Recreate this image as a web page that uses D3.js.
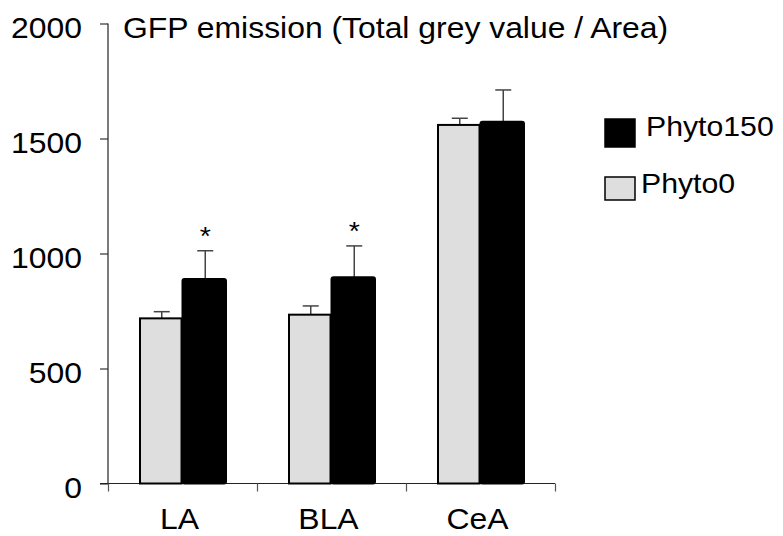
<!DOCTYPE html>
<html>
<head>
<meta charset="utf-8">
<script src="https://cdn.jsdelivr.net/npm/d3@7"></script>
<style>
  html, body { margin: 0; padding: 0; background: #fff; }
  svg { display: block; }
  text { font-family: "Liberation Sans", Arial, Helvetica, sans-serif; fill: #000; }
</style>
</head>
<body>
<svg id="chart" width="783" height="536"></svg>
<script>
const categories = ["LA", "BLA", "CeA"];
const seriesNames = ["Phyto0", "Phyto150"];
const phyto0 = [718, 734, 1559];
const phyto0Err = [747, 772, 1588];
const phyto150 = [889, 897, 1573];
const phyto150Err = [1012, 1033, 1711];
const significant = [true, true, false];
const yTicks = [0, 500, 1000, 1500, 2000];
const title = "GFP emission (Total grey value / Area)";
const legendOrder = ["Phyto150", "Phyto0"];

const svg = d3.select("#chart");
const plotLeft = 108, plotRight = 555, plotTop = 23.5, plotBottom = 483.5;
const SX = 1.1; // horizontal stretch of the reference lettering

function stretch(sel) {
  sel.each(function () {
    const t = d3.select(this);
    const x = +t.attr("x") || 0, yy = +t.attr("y") || 0;
    t.attr("x", 0).attr("y", 0).attr("transform", `translate(${x},${yy}) scale(${SX},1)`);
  });
}

const y = d3.scaleLinear().domain([0, 2000]).range([plotBottom, plotTop]);
const x0 = d3.scaleBand().domain(categories).range([plotLeft, plotRight]).paddingInner(0).paddingOuter(0);
const x1 = d3.scaleBand().domain(seriesNames).range([32, 119]).padding(0);
const xEdges = d3.scaleLinear().domain([0, categories.length]).range([plotLeft, plotRight]);

const fills = { Phyto0: "#dedede", Phyto150: "#000" };
const values = { Phyto0: phyto0, Phyto150: phyto150 };
const errs = { Phyto0: phyto0Err, Phyto150: phyto150Err };

// Y axis
const yAxis = svg.append("g").attr("transform", `translate(${plotLeft},0)`)
  .call(d3.axisLeft(y).tickValues(yTicks).tickSize(8).tickPadding(18).tickFormat(d3.format("d")));
yAxis.select(".domain").attr("stroke", "#222").attr("stroke-width", 1.2).attr("d", `M0,${plotTop}V${plotBottom}`);
yAxis.selectAll(".tick line").attr("stroke", "#333").attr("stroke-width", 1.2);
yAxis.selectAll(".tick text").attr("font-size", 29).attr("dy", "0.48em")
  .style("font-family", "'Liberation Sans', Arial, sans-serif")
  .call(stretch);

// X axis (boundaries)
const xAxis = svg.append("g").attr("transform", `translate(0,${plotBottom})`)
  .call(d3.axisBottom(xEdges).tickValues(d3.range(categories.length + 1)).tickSize(8).tickFormat(""));
xAxis.select(".domain").attr("stroke", "#222").attr("stroke-width", 1.2).attr("d", `M${plotLeft - 8},0H${plotRight}`);
xAxis.selectAll(".tick line").attr("stroke", "#555").attr("stroke-width", 1.2);

// Category labels
svg.append("g").selectAll("text").data(categories).join("text")
  .attr("x", d => x0(d) + x0.bandwidth() / 2 - 3)
  .attr("y", 529)
  .attr("text-anchor", "middle")
  .attr("font-size", 29)
  .text(d => d)
  .call(stretch);

// Bars
const groups = svg.append("g").selectAll("g").data(categories).join("g")
  .attr("transform", d => `translate(${x0(d)},0)`);

seriesNames.forEach(s => {
  groups.append("line")
    .attr("x1", x1(s) + x1.bandwidth() / 2)
    .attr("x2", x1(s) + x1.bandwidth() / 2)
    .attr("y1", (d, i) => y(values[s][i]))
    .attr("y2", (d, i) => y(errs[s][i]))
    .attr("stroke", "#444").attr("stroke-width", 1.5);
  groups.append("line")
    .attr("x1", x1(s) + x1.bandwidth() / 2 - 8)
    .attr("x2", x1(s) + x1.bandwidth() / 2 + 8)
    .attr("y1", (d, i) => y(errs[s][i]))
    .attr("y2", (d, i) => y(errs[s][i]))
    .attr("stroke", "#444").attr("stroke-width", 1.5);
});

groups.append("rect")
  .attr("x", x1("Phyto0"))
  .attr("width", x1.bandwidth() - 2)
  .attr("y", (d, i) => y(phyto0[i]))
  .attr("height", (d, i) => plotBottom - y(phyto0[i]))
  .attr("fill", fills.Phyto0).attr("stroke", "#000").attr("stroke-width", 2);

groups.append("rect")
  .attr("x", x1("Phyto150") - 1)
  .attr("width", x1.bandwidth())
  .attr("y", (d, i) => y(phyto150[i]))
  .attr("height", (d, i) => plotBottom - y(phyto150[i]))
  .attr("rx", 2)
  .attr("fill", fills.Phyto150).attr("stroke", "#000").attr("stroke-width", 2);

// Significance asterisks
groups.filter((d, i) => significant[i]).append("text")
  .attr("x", x1("Phyto150") + x1.bandwidth() / 2)
  .attr("y", d => y(phyto150Err[categories.indexOf(d)]) - 6)
  .attr("text-anchor", "middle")
  .attr("font-size", 26)
  .text("*")
  .call(stretch);

// Title
svg.append("text").attr("x", 123).attr("y", 38).attr("font-size", 29).text(title).call(stretch);

// Legend
const legendBoxes = { Phyto150: { x: 605, y: 119, w: 30, h: 28 }, Phyto0: { x: 605, y: 177, w: 30, h: 23 } };
const legendText = { Phyto150: { x: 646, y: 136 }, Phyto0: { x: 641, y: 193 } };
const lg = svg.append("g");
legendOrder.forEach(s => {
  const b = legendBoxes[s];
  lg.append("rect").attr("x", b.x).attr("y", b.y).attr("width", b.w).attr("height", b.h)
    .attr("fill", fills[s]).attr("stroke", "#000").attr("stroke-width", 1.5);
  lg.append("text").attr("x", legendText[s].x).attr("y", legendText[s].y)
    .attr("font-size", 27.5).text(s).call(stretch);
});
</script>
</body>
</html>
